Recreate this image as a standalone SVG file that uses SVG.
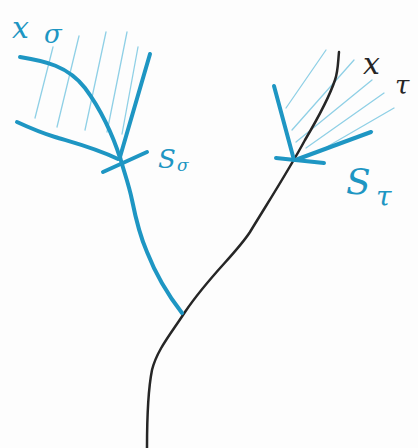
<svg xmlns="http://www.w3.org/2000/svg" width="418" height="448" viewBox="0 0 418 448">
<style>
.b{fill:none;stroke:#1e96c3;stroke-width:4;stroke-linecap:round;stroke-linejoin:round}
.h{fill:none;stroke:#8fd0e6;stroke-width:1.3;stroke-linecap:round}
.k{fill:none;stroke:#262626;stroke-width:2.5;stroke-linecap:round;stroke-linejoin:round}
.tb{fill:#1e96c3;font-family:"DejaVu Serif",serif;font-style:italic}
.tk{fill:#262626;font-family:"DejaVu Serif",serif;font-style:italic}
</style>
<rect width="418" height="448" fill="#fdfdfd"/>
<g id="hatch-sigma">
<path class="h" d="M53,47 L35,118"/>
<path class="h" d="M79,36 L57,127"/>
<path class="h" d="M106,32 L85,130"/>
<path class="h" d="M127,32 L107,132"/>
<path class="h" d="M138,47 L122,134"/>
</g>
<g id="hatch-tau">
<path class="h" d="M326,50 L286,108"/>
<path class="h" d="M354,60 L292,130"/>
<path class="h" d="M372,80 L296,142"/>
<path class="h" d="M384,93 L306,148"/>
<path class="h" d="M394,108 L318,152"/>
</g>
<g id="connectors">
<path class="k" d="M339,52 C338,62 338,72 335,80 C330,95 318,118 305,140 C290,168 272,196 250,232 C235,255 210,275 185,312 C170,335 157,350 152,370 C148,390 147,420 147,448"/>
<path class="b" d="M120,157 C124,172 129,185 132,200 C136,220 140,236 147,252 C156,275 168,295 182,313"/>
</g>
<g id="sigma-cone">
<path class="b" d="M20,57 C45,61 68,66 85,88 C100,108 113,135 120,158"/>
<path class="b" d="M17,122 C30,128 42,133 55,137 C75,143 95,148 118,159"/>
<path class="b" d="M150,54 L120,157"/>
<path class="b" d="M103,172 L147,152"/>
</g>
<g id="tau-cone">
<path class="b" d="M274,86 L294,160"/>
<path class="b" d="M371,132 L298,159"/>
<path class="b" d="M276,158 L324,163"/>
</g>
<g id="label-x-sigma"><text class="tb" x="12" y="38" font-size="30">x</text><text class="tb" x="44" y="43" font-size="26">σ</text></g>
<g id="label-s-sigma"><text class="tb" x="158" y="168" font-size="26">S</text><text class="tb" x="177" y="171" font-size="17">σ</text></g>
<g id="label-x-tau"><text class="tk" x="363" y="74" font-size="30">x</text><text class="tk" x="395" y="94" font-size="26">τ</text></g>
<g id="label-s-tau"><text class="tb" x="346" y="194" font-size="36">S</text><text class="tb" x="376" y="206" font-size="28">τ</text></g>
</svg>
